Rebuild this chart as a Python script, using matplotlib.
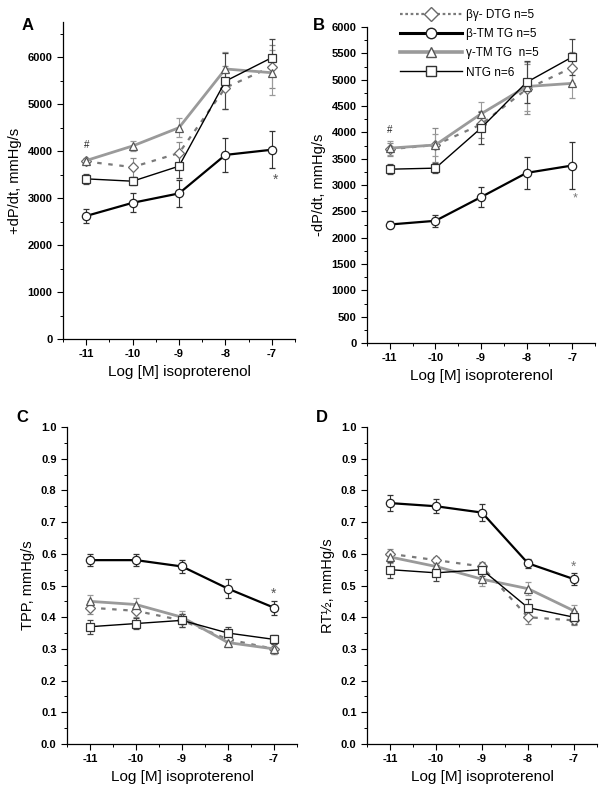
import matplotlib
matplotlib.use("Agg")
import matplotlib.pyplot as plt
from matplotlib.lines import Line2D
from matplotlib.ticker import MultipleLocator, FuncFormatter

plt.rcParams['font.family'] = ['Liberation Sans', 'DejaVu Sans']

W, H = 603, 792

x = [-11, -10, -9, -8, -7]
series_names = ["βγ- DTG n=5", "β-TM TG n=5", "γ-TM TG  n=5", "NTG n=6"]

# Panel A: +dP/dt
a_dtg = [3780, 3660, 3960, 5350, 5800]
a_btm = [2620, 2900, 3100, 3920, 4030]
a_gtm = [3800, 4110, 4500, 5750, 5670]
a_ntg = [3410, 3360, 3680, 5490, 5990]
a_dtg_err = [60, 200, 230, 460, 450]
a_btm_err = [140, 200, 290, 370, 390]
a_gtm_err = [50, 100, 200, 370, 480]
a_ntg_err = [100, 90, 250, 600, 400]

# Panel B: -dP/dt
b_dtg = [3680, 3760, 4150, 4820, 5230]
b_btm = [2250, 2320, 2770, 3230, 3370]
b_gtm = [3700, 3760, 4350, 4870, 4930]
b_ntg = [3300, 3320, 4080, 4950, 5430]
b_dtg_err = [120, 330, 250, 470, 300]
b_btm_err = [60, 110, 190, 310, 440]
b_gtm_err = [130, 200, 230, 470, 270]
b_ntg_err = [90, 100, 300, 400, 340]

# Panel C: TPP
c_dtg = [0.43, 0.42, 0.39, 0.33, 0.30]
c_btm = [0.58, 0.58, 0.56, 0.49, 0.43]
c_gtm = [0.45, 0.44, 0.40, 0.32, 0.30]
c_ntg = [0.37, 0.38, 0.39, 0.35, 0.33]
c_dtg_err = [0.02, 0.02, 0.02, 0.02, 0.015]
c_btm_err = [0.02, 0.018, 0.02, 0.03, 0.022]
c_gtm_err = [0.02, 0.02, 0.02, 0.015, 0.015]
c_ntg_err = [0.022, 0.018, 0.02, 0.02, 0.015]

# Panel D: RT1/2
d_dtg = [0.60, 0.58, 0.56, 0.40, 0.39]
d_btm = [0.76, 0.75, 0.73, 0.57, 0.52]
d_gtm = [0.59, 0.56, 0.52, 0.49, 0.42]
d_ntg = [0.55, 0.54, 0.55, 0.43, 0.40]
d_dtg_err = [0.015, 0.01, 0.015, 0.02, 0.015]
d_btm_err = [0.025, 0.022, 0.027, 0.015, 0.018]
d_gtm_err = [0.02, 0.015, 0.02, 0.02, 0.02]
d_ntg_err = [0.025, 0.025, 0.02, 0.027, 0.02]

styles = [
    dict(color='#7a7a7a', lw=1.6, ls=(0, (2.0, 3.0)), marker='D', ms=5.5, mec='#6a6a6a', ecolor='#8a8a8a'),
    dict(color='black', lw=1.6, ls='-', marker='o', ms=6.0, mec='#222222', ecolor='#333333'),
    dict(color='#9a9a9a', lw=2.0, ls='-', marker='^', ms=6.0, mec='#555555', ecolor='#9a9a9a'),
    dict(color='black', lw=1.0, ls='-', marker='s', ms=5.5, mec='#333333', ecolor='#444444'),
]

fig = plt.figure(figsize=(W / 100, H / 100), dpi=100)


def add_ax(left, right, top, bottom):
    return fig.add_axes([left / W, (H - bottom) / H, (right - left) / W, (bottom - top) / H])


def draw(ax, ys, errs, ylim, major, minor, ylabel, fmt):
    for y, e, st in zip(ys, errs, styles):
        ax.errorbar(x, y, yerr=e, color=st['color'], lw=st['lw'], ls=st['ls'],
                    marker=st['marker'], ms=st['ms'], mfc='white', mec=st['mec'], mew=0.9,
                    ecolor=st['ecolor'], elinewidth=0.8, capsize=2.5, capthick=0.8)
    ax.set_xlim(-11.5, -6.5)
    ax.set_ylim(*ylim)
    ax.xaxis.set_major_locator(MultipleLocator(1))
    ax.xaxis.set_minor_locator(MultipleLocator(0.5))
    ax.yaxis.set_major_locator(MultipleLocator(major))
    ax.yaxis.set_minor_locator(MultipleLocator(minor))
    for s in ['top', 'right']:
        ax.spines[s].set_visible(False)
    for s in ['left', 'bottom']:
        ax.spines[s].set_linewidth(0.9)
    ax.tick_params(which='major', direction='out', length=4, width=0.8, labelsize=8)
    ax.tick_params(which='minor', direction='out', length=2.5, width=0.7)
    ax.set_xticks(x)
    ax.set_xticklabels([str(v) for v in x], fontweight='bold', fontsize=8)
    ax.yaxis.set_major_formatter(fmt)
    for lab in ax.get_yticklabels():
        lab.set_fontweight('bold')
    ax.set_xlabel("Log [M] isoproterenol", fontsize=11, labelpad=4)
    ax.set_ylabel(ylabel, fontsize=10.5, labelpad=4)


int_fmt = FuncFormatter(lambda v, p: f"{int(round(v))}")
dec_fmt = FuncFormatter(lambda v, p: f"{v:.1f}")

axA = add_ax(63, 295, 22, 339)
draw(axA, [a_dtg, a_btm, a_gtm, a_ntg], [a_dtg_err, a_btm_err, a_gtm_err, a_ntg_err],
     (0, 6750), 1000, 500, "+dP/dt, mmHg/s", int_fmt)
axA.text(-11, 4020, "#", ha='center', va='bottom', fontsize=7, color='#222222')
axA.text(-6.92, 3380, "*", ha='center', va='center', fontsize=10, color='#555555')

axB = add_ax(367, 595, 27, 343)
draw(axB, [b_dtg, b_btm, b_gtm, b_ntg], [b_dtg_err, b_btm_err, b_gtm_err, b_ntg_err],
     (0, 6000), 500, 250, "-dP/dt, mmHg/s", int_fmt)
axB.text(-11, 3950, "#", ha='center', va='bottom', fontsize=7, color='#222222')
axB.text(-6.93, 2740, "*", ha='center', va='center', fontsize=9, color='#777777')

axC = add_ax(67, 297, 427, 744)
draw(axC, [c_dtg, c_btm, c_gtm, c_ntg], [c_dtg_err, c_btm_err, c_gtm_err, c_ntg_err],
     (0, 1.0), 0.1, 0.05, "TPP, mmHg/s", dec_fmt)
axC.text(-7, 0.475, "*", ha='center', va='center', fontsize=10, color='#555555')

axD = add_ax(367, 597, 427, 744)
draw(axD, [d_dtg, d_btm, d_gtm, d_ntg], [d_dtg_err, d_btm_err, d_gtm_err, d_ntg_err],
     (0, 1.0), 0.1, 0.05, "RT½, mmHg/s", dec_fmt)
axD.text(-7, 0.56, "*", ha='center', va='center', fontsize=10, color='#777777')

for lab, (px, py) in zip("ABCD", [(22, 26), (313, 26), (16, 418), (316, 418)]):
    fig.text(px / W, 1 - py / H, lab, fontsize=12, fontweight='bold', ha='left', va='center')

handles = []
for st, name in zip(styles, series_names):
    ls = (0, (1.2, 1.2)) if st['marker'] == 'D' else st['ls']
    handles.append(Line2D([], [], color=st['color'], lw=st['lw'] + (0.6 if st['marker'] in 'o^' else 0), ls=ls,
                          marker=st['marker'], ms=st['ms'] + 1.5, mfc='white', mec=st['mec'], mew=1.0))
fig.legend(handles, series_names, loc='upper left', bbox_to_anchor=(392 / W, 1 - 1 / H),
           frameon=False, fontsize=8.5, handlelength=5.2, handletextpad=0.4, labelspacing=0.6,
           borderpad=0.2)

fig.savefig("out.png", dpi=100)
